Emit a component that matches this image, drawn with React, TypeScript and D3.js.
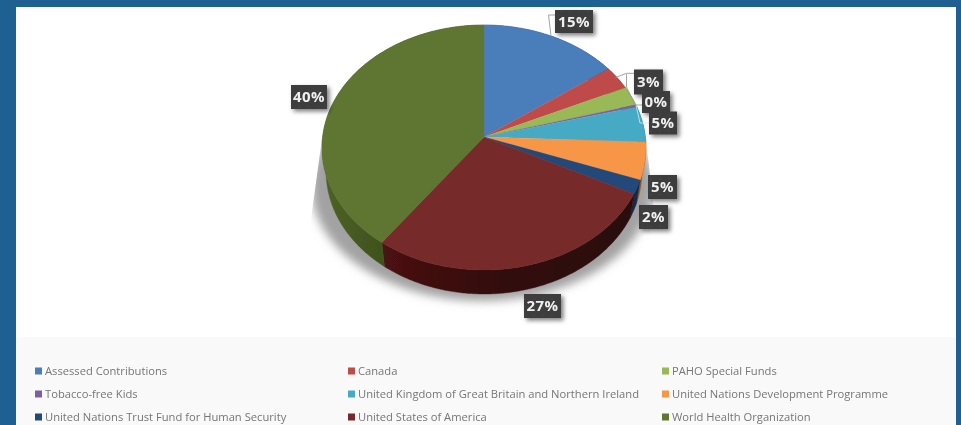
import React from "react";
import * as d3 from "d3";

const categories = [
  "Assessed Contributions", "Canada", "PAHO Special Funds",
  "Tobacco-free Kids", "United Kingdom of Great Britain and Northern Ireland", "United Nations Development Programme",
  "United Nations Trust Fund for Human Security", "United States of America", "World Health Organization",
];
const values = [15, 3.1, 2.55, 0.3, 4.7, 4.95, 1.85, 27.6, 40];
const percentLabels = ["15%", "3%", "0%", "5%", "5%", "2%", "27%", "40%"];
const colors = ["#4a7ebb", "#be4b48", "#98b954", "#7d60a0", "#46aac5", "#f79646", "#23497a", "#772c2a", "#5f7530"];

const W = 961, H = 425;
const cx = 484, cy = 137, a = 161.4, b = 121.6, k = -0.0857, depth = 24, lowerScale = 0.975;

// perspective projection of a pie angle (0 = up, clockwise)
function project(t: number): [number, number] {
  const X = Math.sin(t), Y = -Math.cos(t);
  const w = 1 + k * Y;
  return [cx + (a * X) / w, cy + (b * Y) / w];
}
function arcPoints(t0: number, t1: number) {
  const n = Math.max(2, Math.ceil((t1 - t0) / 0.01));
  return d3.range(n + 1).map((i) => project(t0 + ((t1 - t0) * i) / n));
}
const line = d3.line();

const slices = d3.pie<number>().sort(null)(values);

const labelBoxes = [
  { x: 555, y: 10, w: 38, h: 23 },
  { x: 634, y: 69.5, w: 29, h: 25 },
  { x: 642, y: 91, w: 28, h: 22 },
  { x: 649, y: 111.5, w: 28, h: 23 },
  { x: 648, y: 175, w: 29, h: 24 },
  { x: 639, y: 205, w: 29, h: 24 },
  { x: 524, y: 294, w: 37, h: 24 },
  { x: 291, y: 85, w: 36, h: 24 },
];
const leaders: [number, number][][] = [
  [[551, 36], [548.5, 15], [556, 15]],
  [[615.5, 77.5], [626.5, 73.3], [635, 73.3]],
  [[626.5, 74], [626.5, 87], [635, 105], [643, 105]],
];

const legendCols = [35, 348, 662];
const legendRows = [371, 394, 417];

export default function App() {
  return (
    <svg width={W} height={H} viewBox={`0 0 ${W} ${H}`} style={{ position: "absolute", left: 0, top: 0, display: "block" }}>
      <defs>
        <filter id="soft" x="-5%" y="-5%" width="110%" height="110%"><feGaussianBlur stdDeviation="0.35" /></filter>
        <filter id="shadowBlur" x="-20%" y="-20%" width="140%" height="140%"><feGaussianBlur stdDeviation="5" /></filter>
        <filter id="boxShadow" x="-30%" y="-30%" width="170%" height="170%">
          <feDropShadow dx="2.5" dy="2.5" stdDeviation="2" floodColor="#000" floodOpacity="0.5" />
        </filter>
        <clipPath id="shadowClip">
          <path d="M322,138 L312,212 L300,320 L665,320 L653,200 L646,140 Z" />
        </clipPath>
        <pattern id="dots" width="9" height="8" patternUnits="userSpaceOnUse">
          <rect width="9" height="8" fill="#3c3c3c" />
          <circle cx="3" cy="3" r="0.8" fill="#4a4a4a" />
        </pattern>
        <linearGradient id="wallMaroon" gradientUnits="userSpaceOnUse" x1="382" x2="640" y1="0" y2="0">
          <stop offset="0" stopColor="#4a1212" />
          <stop offset="0.45" stopColor="#330d0e" />
          <stop offset="1" stopColor="#2a0c0d" />
        </linearGradient>
        <linearGradient id="wallOlive" gradientUnits="userSpaceOnUse" x1="322" x2="384" y1="0" y2="0">
          <stop offset="0" stopColor="#4e6326" />
          <stop offset="1" stopColor="#3f511d" />
        </linearGradient>
      </defs>

      <rect width={W} height={H} fill="#1f6092" />
      <rect x={16} y={7} width={940} height={330} fill="#ffffff" />
      <rect x={16} y={337} width={940} height={88} fill="#f9f9f9" />

      <g filter="url(#soft)">
        <g clipPath="url(#shadowClip)">
          <ellipse cx={482} cy={186} rx={171} ry={115} fill="#a2a2a2" filter="url(#shadowBlur)" />
        </g>

        {slices.map((s, i) => {
          const pts = arcPoints(s.startAngle, s.endAngle);
          const lower = pts
            .map(([x, y]) => [cx + (x - cx) * lowerScale, y + depth] as [number, number])
            .reverse();
          const fill = i === 7 ? "url(#wallMaroon)" : i === 8 ? "url(#wallOlive)" : d3.color(colors[i])!.darker(1.6).formatHex();
          return <path key={i} d={line([...pts, ...lower])! + "Z"} fill={fill} stroke={fill} strokeWidth={0.4} />;
        })}

        {slices.map((s, i) => {
          const pts = arcPoints(s.startAngle, s.endAngle);
          return <path key={i} d={line([[cx, cy], ...pts])! + "Z"} fill={colors[i]} stroke={colors[i]} strokeWidth={0.3} />;
        })}

        {leaders.map((p, i) => (
          <path key={i} d={line(p)!} fill="none" stroke="#9a9a9a" strokeWidth={0.9} />
        ))}
        <path d="M636,105 L640,123 L650,123" fill="none" stroke="#d5e9f0" strokeWidth={0.8} />

        {percentLabels.map((t, i) => {
          const r = labelBoxes[i];
          return (
            <g key={i}>
              <rect x={r.x} y={r.y} width={r.w} height={r.h} fill="url(#dots)" filter="url(#boxShadow)" />
              <text x={r.x + r.w / 2} y={r.y + r.h / 2 + 5.2} textAnchor="middle" fontFamily="'Open Sans', sans-serif" fontWeight={700} fontSize={15} letterSpacing={0.4} fill="#f0f0f0">{t}</text>
            </g>
          );
        })}

        {categories.map((c, i) => {
          const x = legendCols[i % 3];
          const y = legendRows[Math.floor(i / 3)];
          return (
            <g key={c}>
              <rect x={x} y={y - 3.5} width={7} height={7} fill={colors[i]} />
              <text x={x + 10} y={y + 4} fontFamily="'Open Sans', sans-serif" fontSize={11.2} fill="#767676">{c}</text>
            </g>
          );
        })}
      </g>
    </svg>
  );
}
